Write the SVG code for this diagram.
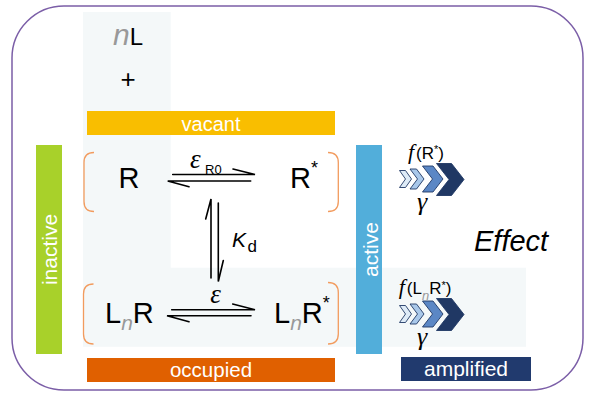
<svg xmlns="http://www.w3.org/2000/svg" width="589" height="393" viewBox="0 0 589 393">
<style>
.s{font-family:"Liberation Sans",Arial,sans-serif;fill:#000}
.m{font-family:"Liberation Serif","Times New Roman",serif;font-style:italic;fill:#000}
.g{font-family:"Liberation Sans",Arial,sans-serif;font-style:italic;fill:#999}
.lbl{font-family:"Liberation Sans",Arial,sans-serif;fill:#fff;text-anchor:middle}
.br{fill:none;stroke:#F29B5E;stroke-width:1.3}
.ar{fill:none;stroke:#000;stroke-width:1.6;stroke-linecap:round}
.ch{stroke:#1F3864;stroke-width:0.9;stroke-linejoin:miter}
</style>
<rect x="12" y="6" width="571" height="384" rx="52" ry="52" fill="#fff" stroke="#7B5EA7" stroke-width="1.5"/>
<path d="M83,12 H170.7 V267.7 H526 V346.7 H83 Z" fill="#F4F8F9"/>

<g id="ligand">
<text class="s" x="128" y="45.3" font-size="24" text-anchor="middle"><tspan class="g" font-size="30">n</tspan>L</text>
<text class="s" x="128" y="88" font-size="26" text-anchor="middle">+</text>
</g>

<g id="vacant">
<rect x="87" y="111" width="248" height="24" fill="#F9BE00"/>
<text class="lbl" x="211" y="130.5" font-size="20">vacant</text>
</g>
<g id="occupied">
<rect x="87" y="358" width="248" height="24" fill="#E06000"/>
<text class="lbl" x="211" y="376.5" font-size="20.5">occupied</text>
</g>
<g id="amplified">
<rect x="401" y="357" width="130" height="24" fill="#213A6E"/>
<text class="lbl" x="466" y="376" font-size="21">amplified</text>
</g>
<g id="inactive">
<rect x="36" y="145" width="26" height="209" fill="#A8D12A"/>
<text class="lbl" transform="translate(57.3,249.5) rotate(-90)" font-size="21">inactive</text>
</g>
<g id="active">
<rect x="356" y="145" width="26" height="209" fill="#52AEDA"/>
<text class="lbl" transform="translate(378,249.5) rotate(-90)" font-size="21">active</text>
</g>

<g id="R">
<path class="br" d="M94,152.5 Q84,152.5 84,162.5 V201.5 Q84,211.5 94,211.5"/>
<text class="s" x="129" y="187.7" font-size="29" text-anchor="middle">R</text>
</g>
<g id="Rstar">
<path class="br" d="M328,152.5 Q338.3,152.5 338.3,162.5 V201.5 Q338.3,211.5 328,211.5"/>
<text class="s" x="290" y="187.7" font-size="29">R<tspan font-size="18" dy="-14">*</tspan></text>
</g>
<g id="LnR">
<path class="br" d="M93.5,284 Q83.5,284 83.5,294 V334 Q83.5,344 93.5,344"/>
<text class="s" x="105" y="323.3" font-size="29">L<tspan class="g" font-size="21" dy="6.7">n</tspan><tspan dy="-6.7">R</tspan></text>
</g>
<g id="LnRstar">
<path class="br" d="M328,282.5 Q338.3,282.5 338.3,292.5 V334 Q338.3,344 328,344"/>
<text class="s" x="274" y="323.3" font-size="29">L<tspan class="g" font-size="21" dy="6.7">n</tspan><tspan dy="-6.7">R</tspan><tspan font-size="18" dy="-14">*</tspan></text>
</g>

<g id="connectors">
<path class="ar" d="M172.7,174.5 H255 L233,169"/>
<path class="ar" d="M250.7,181 H167.7 L189,186.7"/>
<path class="ar" d="M171.7,309.7 H255 L232.7,304"/>
<path class="ar" d="M251,315.7 H167 L189,321.7"/>
<path class="ar" d="M211,278 V199 L205.7,219"/>
<path class="ar" d="M218.3,203 V281.5 L223.3,260.5"/>
<text class="m" x="190" y="168.3" font-size="27">ε</text>
<text class="s" x="205" y="174" font-size="13">R0</text>
<text class="m" x="215.5" y="303.3" font-size="27" text-anchor="middle">ε</text>
<text class="s" x="232" y="246.7" font-size="21" font-style="italic">K</text>
<text class="s" x="247.5" y="252.3" font-size="17">d</text>
</g>

<g id="effect-active">
<text class="s" x="426" y="159.3" font-size="17" text-anchor="middle"><tspan class="m" font-size="22">f</tspan><tspan dx="2">(R</tspan><tspan font-size="11" dy="-6.3">*</tspan><tspan dy="6.3">)</tspan></text>
<polygon class="ch" fill="#DEEBF7" points="399.5,170.5 405.5,170.5 411.5,179 405.5,187.5 399.5,187.5 405.5,179"/>
<polygon class="ch" fill="#A9C8EA" points="410,169 416.5,169 424,179 416.5,189 410,189 417.5,179"/>
<polygon class="ch" fill="#5B87C5" points="422.5,166 433,166 443,179 433,192 422.5,192 432.5,179"/>
<polygon class="ch" fill="#203864" points="436.5,163.5 451.5,163.5 464,179.5 451.5,195.5 436.5,195.5 449,179.5"/>
<text class="m" x="422" y="209.5" font-size="26" text-anchor="middle">γ</text>
</g>

<g id="effect-occupied">
<text class="s" x="425" y="294.3" font-size="17" text-anchor="middle"><tspan class="m" font-size="22">f</tspan><tspan dx="2">(L</tspan><tspan class="g" font-size="13" dy="5.7">n</tspan><tspan dy="-5.7">R</tspan><tspan font-size="11" dy="-5.7">*</tspan><tspan dy="5.7">)</tspan></text>
<polygon class="ch" fill="#DEEBF7" points="399.5,305.5 405.5,305.5 411.5,314 405.5,322.5 399.5,322.5 405.5,314"/>
<polygon class="ch" fill="#A9C8EA" points="410,304 416.5,304 424,314 416.5,324 410,324 417.5,314"/>
<polygon class="ch" fill="#5B87C5" points="422.5,301 433,301 443,314 433,327 422.5,327 432.5,314"/>
<polygon class="ch" fill="#203864" points="436.5,298.5 451.5,298.5 464,314.5 451.5,330.5 436.5,330.5 449,314.5"/>
<text class="m" x="422" y="344.5" font-size="26" text-anchor="middle">γ</text>
</g>

<g id="effect">
<text class="s" x="474" y="251" font-size="29" font-style="italic">Effect</text>
</g>
</svg>
